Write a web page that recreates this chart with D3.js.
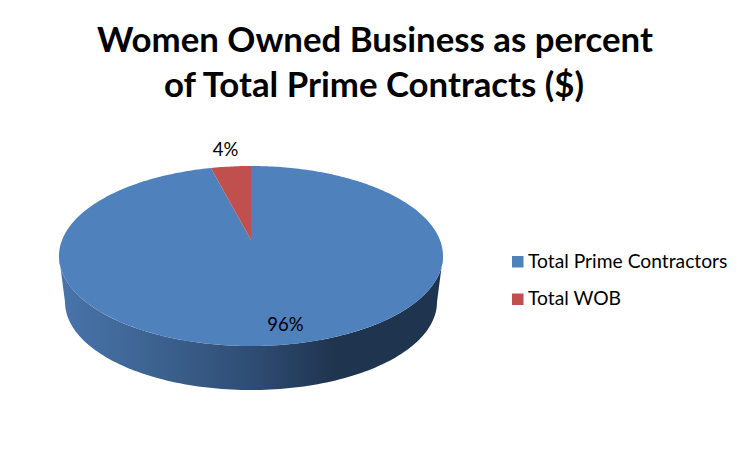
<!DOCTYPE html>
<html><head><meta charset="utf-8">
<script src="https://cdn.jsdelivr.net/npm/d3@7"></script>
<style>html,body{margin:0;padding:0;background:#fff}svg{display:block}text{font-family:Lato,"Open Sans",sans-serif;fill:#000}</style>
</head><body><svg id="c" width="752" height="451"></svg>
<script>
const categories = ["Total Prime Contractors", "Total WOB"];
const values = [96, 4];
const valueLabels = ["96%", "4%"];
const titleLines = ["Women Owned Business as percent", "of Total Prime Contracts ($)"];
const colors = ["#4f81bd", "#c0504d"];

const svg = d3.select("#c");
const color = d3.scaleOrdinal(categories, colors);

// title
svg.append("g").selectAll("text").data(titleLines).join("text")
  .attr("x", (d,i)=>375-i).attr("y", (d,i)=>52+i*45)
  .attr("text-anchor","middle").attr("font-size",34.8).attr("font-weight",700)
  .text(d=>d);

// pie geometry
const upper = {cx:251, cy:256, rx:192, ry:90};
const lower = {cx:251, cy:302, rx:186, ry:88};
const tilt = 16/90; // perspective: pie centre sits above the ellipse centre

function project(a, r) {
  const u = r*Math.sin(a), v = r*Math.cos(a), w = 1 + tilt*v;
  return [upper.cx + upper.rx*u*Math.sqrt(1-tilt*tilt)/w, upper.cy - upper.ry*(v+tilt)/w];
}
const slices = d3.pie().sort(null).value(d=>d)(values);
const line = d3.line();
function slicePath(s){
  const n = Math.max(2, Math.ceil((s.endAngle-s.startAngle)*60));
  const pts = d3.range(n+1).map(i=>project(s.startAngle+(s.endAngle-s.startAngle)*i/n,1));
  return line([project(0,0), ...pts]) + "Z";
}

// side wall
const defs = svg.append("defs");
const grad = defs.append("linearGradient").attr("id","side")
  .attr("gradientUnits","userSpaceOnUse").attr("x1",62).attr("x2",440).attr("y1",0).attr("y2",0);
[[0,"#4874aa"],[0.2,"#3f6695"],[0.5,"#2f4d74"],[0.72,"#1f344f"],[1,"#1f344f"]]
  .forEach(([o,c])=>grad.append("stop").attr("offset",o).attr("stop-color",c));
const halfPts = (e,rev)=>{
  const p = d3.range(0,121).map(i=>{
    const t=Math.PI*i/120;
    return [e.cx-e.rx*Math.cos(t), e.cy+e.ry*Math.sin(t)];
  });
  return rev?p.reverse():p;
};
svg.append("path").attr("fill","url(#side)")
  .attr("d", line([...halfPts(upper,false), ...halfPts(lower,true)])+"Z");

// top face
svg.append("g").selectAll("path").data(slices).join("path")
  .attr("fill",(d,i)=>color(categories[i]))
  .attr("d",slicePath);

// data labels
const labelPos = [[285.5,331],[225.5,156]];
svg.append("g").selectAll("text").data(valueLabels).join("text")
  .attr("x",(d,i)=>labelPos[i][0]).attr("y",(d,i)=>labelPos[i][1])
  .attr("text-anchor","middle").attr("font-size",18.5).text(d=>d);

// legend
const lg = svg.append("g").selectAll("g").data(categories).join("g")
  .attr("transform",(d,i)=>`translate(512,${256+i*37.5})`);
lg.append("rect").attr("width",11.5).attr("height",11.5).attr("fill",d=>color(d));
lg.append("text").attr("x",16).attr("y",11.5).attr("font-size",19.25).text(d=>d);
</script></body></html>
